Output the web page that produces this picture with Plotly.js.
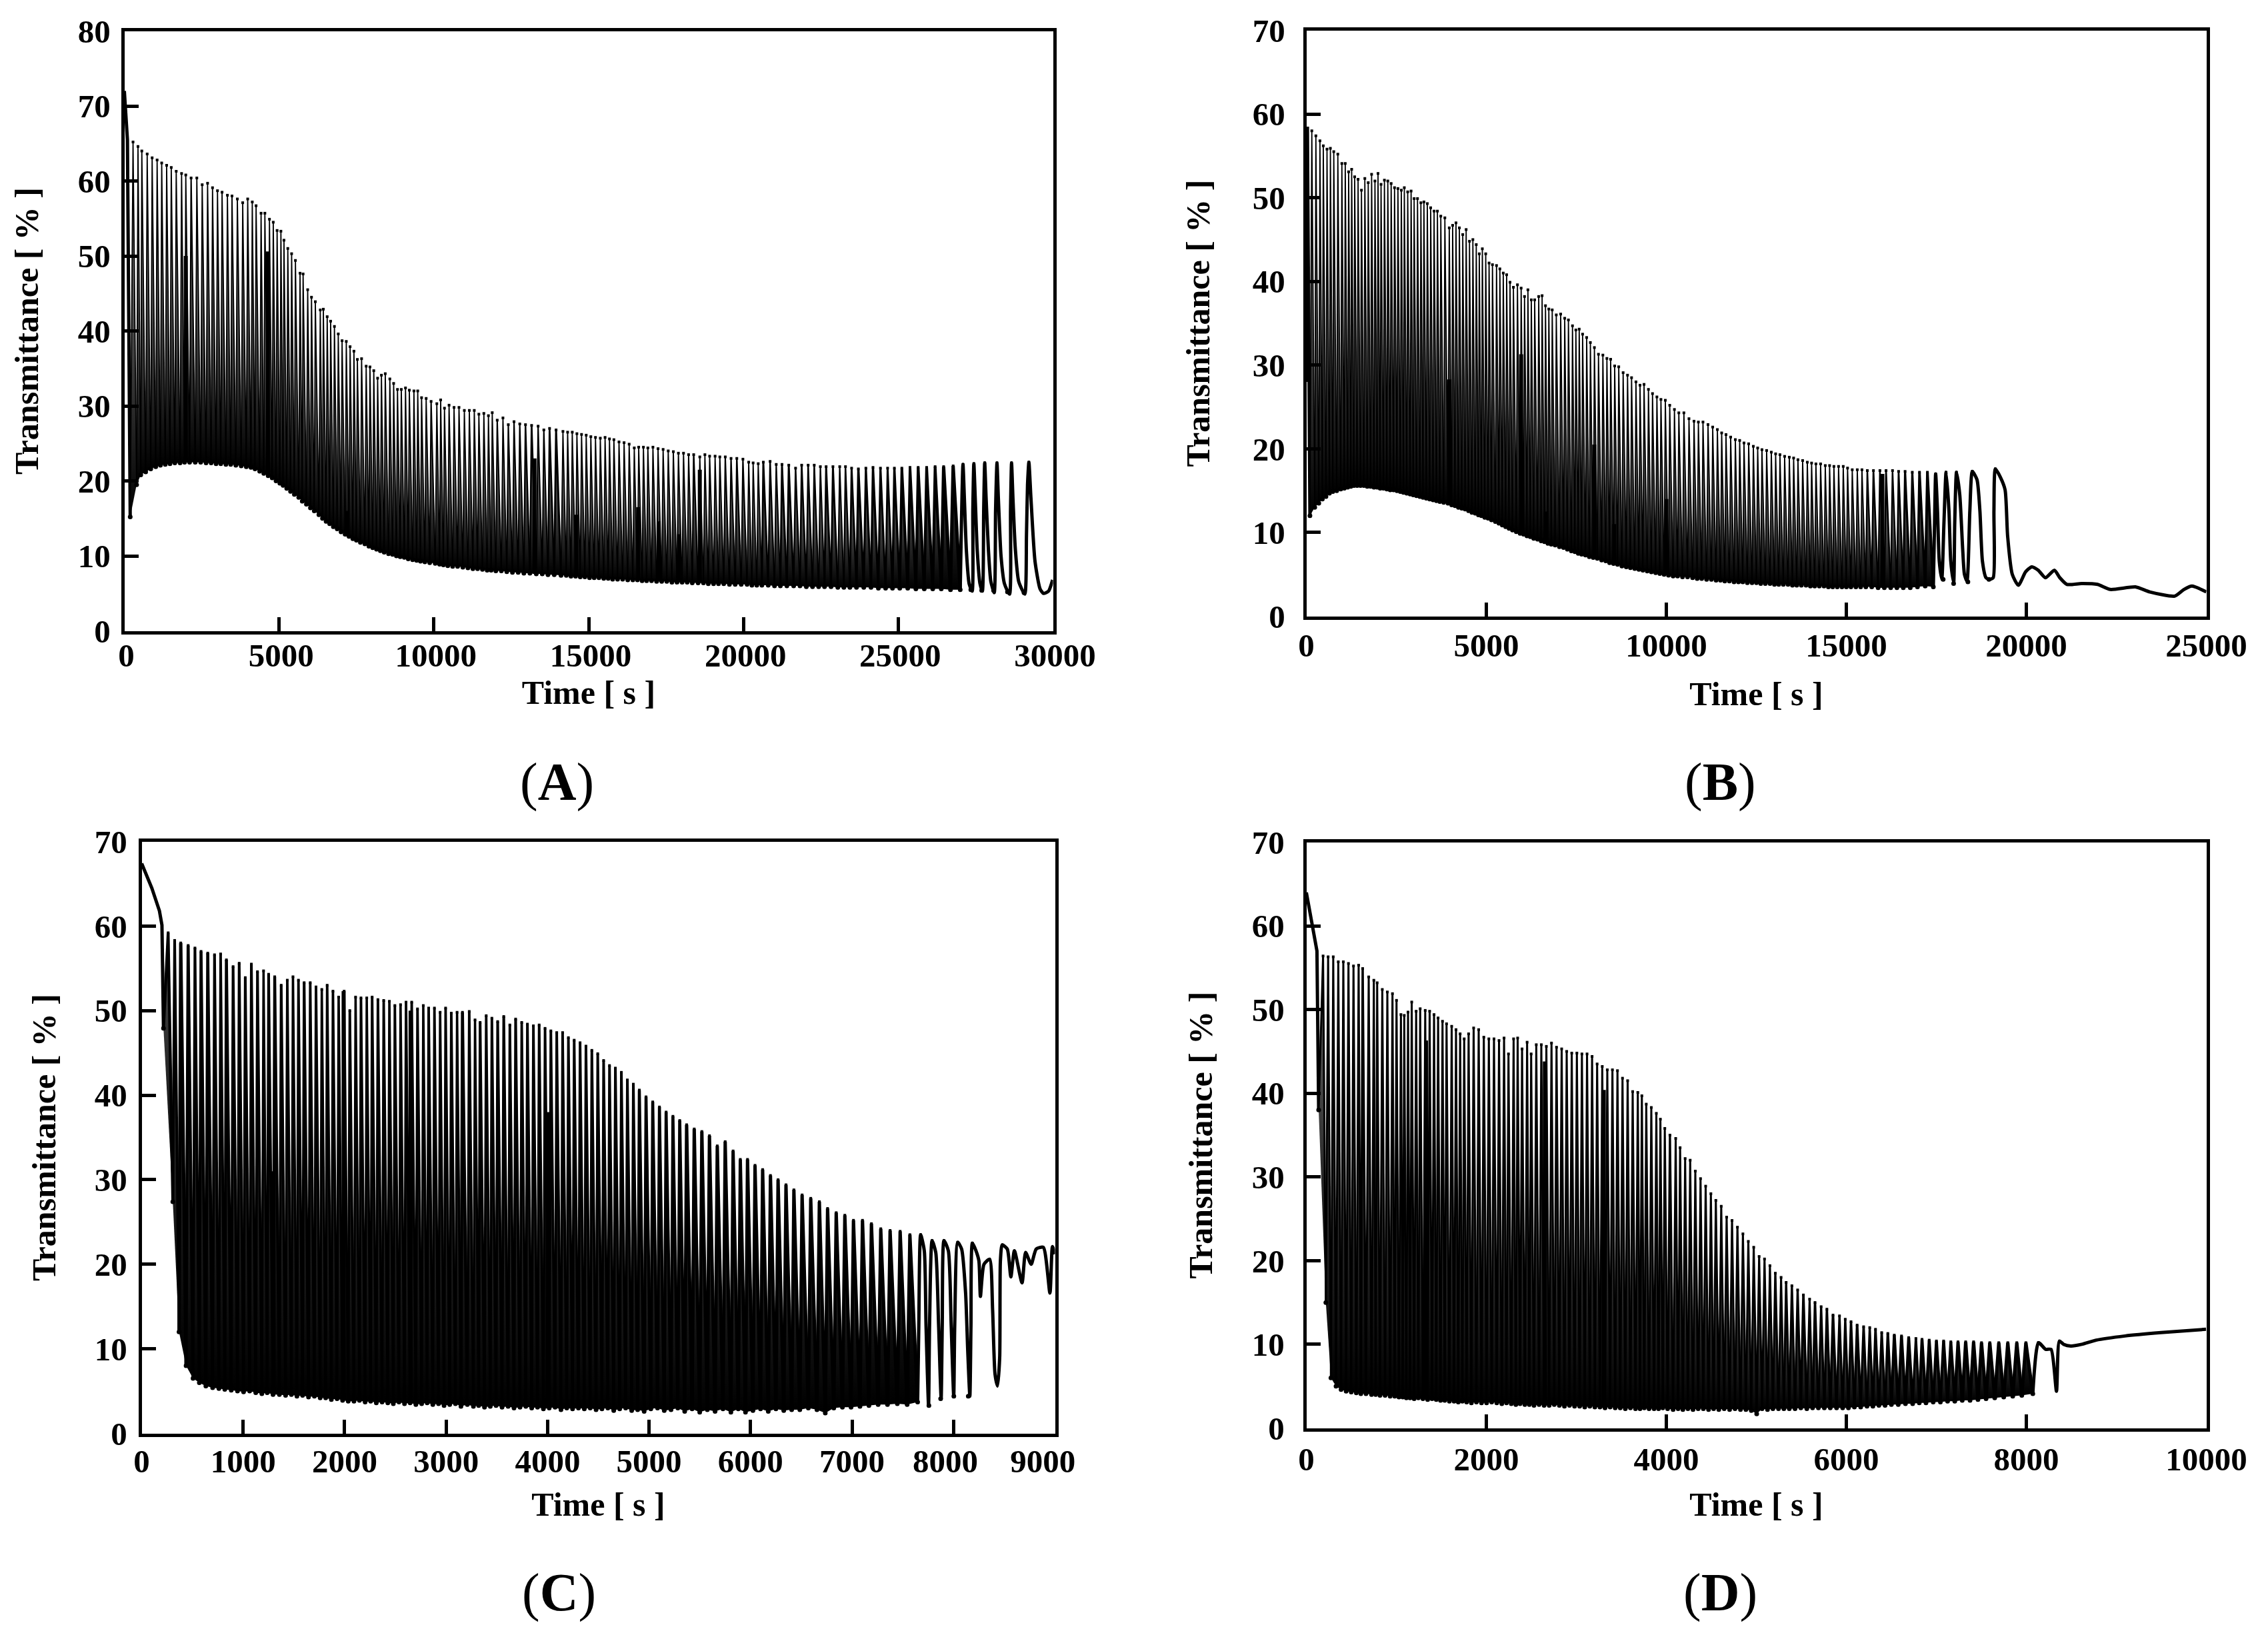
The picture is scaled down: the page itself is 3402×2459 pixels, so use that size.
<!DOCTYPE html>
<html><head><meta charset="utf-8">
<script src="https://cdn.plot.ly/plotly-3.0.1.min.js"></script>
<style>html,body{margin:0;padding:0;background:#fff}</style>
</head><body><div id="chart" style="width:3402px;height:2459px"></div>
<script>
const startTimesA=[0,100,190], startValsA=[72,65.5,15.2];
const timesA=[281,441,565,738,898,1059,1207,1367,1516,1676,
1849,1985,2157,2342,2515,2689,2849,3009,3157,3330,
3478,3651,3824,3985,4133,4256,4417,4540,4688,4811,
4935,5058,5157,5281,5404,5527,5676,5775,5923,6046,
6170,6330,6429,6553,6664,6787,6911,7034,7170,7293,
7417,7528,7664,7812,7935,8058,8182,8305,8429,8577,
8700,8824,8947,9083,9207,9355,9478,9602,9750,9910,
10095,10219,10342,10490,10651,10811,10984,11145,11305,11453,
11614,11762,11885,12046,12231,12404,12589,12774,12959,13157,
13367,13552,13737,13947,14169,14320,14470,14620,14770,14920,
15070,15220,15376,15530,15672,15815,15980,16144,16308,16473,
16616,16769,16912,17076,17241,17405,17570,17735,17899,18064,
18228,18393,18590,18755,18908,19084,19237,19413,19599,19786,
19983,20170,20313,20477,20642,20861,21059,21245,21464,21684,
21881,22090,22287,22485,22671,22891,23110,23296,23494,23713,
23955,24185,24426,24657,24876,25117,25381,25644,25918,26192,
26467,26774,27092,27443,27794,28190,28661,29221];
const topsA=[65.2,64.6,64,63.6,63.1,62.8,62.4,62.1,61.8,61.3,
61,60.8,60.4,60.4,59.5,59.7,59.1,58.7,58.5,58.1,
58,57.6,57.1,57.6,57.2,56.7,55.7,55.7,54.9,54.5,
53.4,53.3,52.1,51,50.3,49.4,47.7,47.6,45.5,44.5,
43.9,42.8,42.9,41.9,41.3,40.6,39.6,38.7,38.6,37.9,
37.3,36.2,36.3,35.3,35.2,34.7,33.7,34.1,34.3,33.6,
33,32.2,32.2,32.4,32.1,32,32,31.1,31,30.6,
30.3,30.8,29.7,30.1,29.8,29.8,29.4,29.4,29.4,28.9,
29,28.7,29.1,28.1,28.4,27.5,27.9,27.6,27.5,27.4,
27.3,26.8,27,26.8,26.6,26.5,26.5,26.3,26.2,26.1,
25.9,25.8,25.7,25.8,25.6,25.5,25.2,25.1,24.9,24.4,
24.5,24.5,24.4,24.5,24.3,24.2,24,23.9,23.7,23.7,
23.5,23.5,23.2,23.5,23.3,23.3,23.2,23.2,23,23,
22.9,22.5,22.4,22.3,22.5,22.6,22.2,22.2,22.1,21.7,
22.1,22.1,22.1,21.9,21.9,21.9,21.9,21.9,21.7,21.6,
21.7,21.8,21.7,21.7,21.7,21.7,21.8,21.8,21.8,21.9,
21.9,22,22.2,22.3,22.4,22.4,22.4,22.5];
const lowsA=[19.5,20.8,21.2,21.6,21.9,22.1,22.2,22.3,22.4,22.4,
22.5,22.5,22.5,22.5,22.4,22.4,22.3,22.3,22.2,22.2,
22.1,22,21.9,21.8,21.6,21.3,21,20.7,20.4,20,
19.7,19.4,19,18.6,18.2,17.8,17.3,16.9,16.4,16,
15.5,15,14.6,14.3,13.9,13.6,13.2,12.9,12.6,12.3,
12.1,11.8,11.6,11.3,11.1,10.9,10.7,10.5,10.3,10.2,
10,9.9,9.8,9.6,9.5,9.4,9.3,9.2,9.1,9,
8.9,8.8,8.7,8.6,8.6,8.5,8.4,8.3,8.3,8.2,
8.1,8.1,8,8,7.9,7.8,7.8,7.7,7.7,7.6,
7.6,7.5,7.5,7.4,7.4,7.3,7.3,7.2,7.2,7.1,
7.1,7.1,7,7,6.9,6.9,6.9,6.8,6.8,6.8,
6.7,6.7,6.7,6.6,6.6,6.6,6.5,6.5,6.5,6.5,
6.4,6.4,6.4,6.3,6.3,6.3,6.3,6.2,6.2,6.2,
6.2,6.1,6.1,6.1,6.1,6,6,6,6,6,
5.9,5.9,5.9,5.9,5.9,5.8,5.8,5.8,5.8,5.8,
5.8,5.7,5.7,5.7,5.7,5.7,5.6,5.6,5.6,5.6,
5.5,5.5,5.5,5.4,5.4,5.2,5.1];
const endTimesA=[27092,27136,27202,27290,27388,27410,27443,27487,27553,27641,27718,27761,27794,27838,27915,27992,28101,28145,28190,28234,28321,28431,28596,28628,28661,28705,28782,28891,29089,29143,29177,29221,29286,29418,29582,29692,29856,29988];
const endValsA=[22.2,17.8,10.7,6.3,5.3,16.1,22.3,17.8,10.7,6.3,5.3,16.1,22.4,17.8,10.7,6.6,5.1,16.1,22.4,17.8,10,6.3,4.9,16.1,22.4,17.8,11,6.6,4.9,12.7,19.5,22.5,17.8,9.3,5.6,5,5.3,6.8];
const barTimesA=[1985,4640,7200,13250,14600,16600,17263,17921,18590], barTopsA=[50,50.6,16,23,15.5,16.5,14.6,12.9,21.5];

const startTimesB=[0,30,100], startValsB=[28,58.5,12];
const timesB=[152,265,378,471,574,668,762,875,987,1081,
1175,1259,1343,1437,1531,1625,1719,1813,1906,1991,
2075,2169,2263,2356,2450,2544,2638,2722,2816,2910,
2994,3088,3182,3266,3360,3454,3548,3641,3735,3848,
3970,4064,4157,4251,4345,4439,4532,4626,4720,4804,
4889,4983,5076,5170,5283,5376,5470,5564,5658,5752,
5864,5967,6061,6155,6249,6343,6455,6549,6643,6736,
6830,6943,7065,7177,7280,7393,7487,7580,7674,7787,
7890,8002,8115,8237,8349,8453,8565,8678,8800,8922,
9034,9156,9269,9381,9503,9616,9738,9850,9972,10094,
10225,10347,10488,10629,10769,10890,11018,11158,11288,11418,
11537,11657,11787,11917,12037,12157,12287,12417,12537,12656,
12786,12916,13036,13156,13286,13416,13536,13656,13786,13916,
14035,14155,14285,14415,14535,14655,14784,14914,15034,15164,
15304,15434,15583,15753,15933,16103,16283,16452,16632,16832,
17032,17252,17481,17771,18061,18500,19140];
const topsB=[58,57.4,56.8,56.2,55.8,55.9,55.5,55.2,54.1,54.1,
53.1,53.4,52.5,52.2,50.9,52.3,51.8,52.8,52,52.9,
51.6,52.1,52,51.7,51.2,51.1,50.9,51.2,50.7,50.8,
49.9,49.9,49.4,49.5,49.3,48.8,48.4,48.4,47.8,47.6,
46.4,46.7,47,46.4,45.6,46.2,44.8,45,44.4,43.3,
43.9,43.3,42.2,42,41.9,41.5,41,40.8,39.9,39.3,
39.6,39.2,38.2,39,37.8,37.8,38.2,38.3,37.1,36.7,
36.6,36,36.1,35.6,35.4,34.7,34.2,34.3,33.7,33.3,
32.7,32.1,31.3,31.2,30.8,30.7,29.9,29.8,29.1,28.8,
28.5,28,27.6,27.7,27.1,26.6,26.2,25.9,25.8,25.2,
24.7,24.3,24.3,23.6,23.3,23.2,23.2,22.9,22.6,22.3,
21.9,21.7,21.4,21.1,21,20.7,20.6,20.3,20.1,19.9,
19.8,19.6,19.4,19.3,19.1,19,18.9,18.7,18.6,18.4,
18.3,18.2,18.2,18,18,17.9,17.9,17.9,17.7,17.5,
17.5,17.5,17.4,17.4,17.4,17.4,17.4,17.3,17.3,17.2,
17.2,17.2,17,17.2,17.2,17.3,17.6];
const lowsB=[13,13.5,14,14.3,14.7,14.9,15,15.2,15.3,15.4,
15.5,15.6,15.6,15.6,15.6,15.5,15.5,15.4,15.4,15.3,
15.3,15.2,15.1,15.1,15,14.9,14.8,14.7,14.6,14.5,
14.4,14.3,14.2,14.1,14,13.9,13.8,13.7,13.6,13.5,
13.3,13.2,13,12.9,12.8,12.6,12.4,12.3,12.1,12,
11.8,11.7,11.5,11.3,11.1,10.9,10.7,10.5,10.3,10.1,
9.9,9.8,9.6,9.5,9.3,9.2,9,8.9,8.7,8.6,
8.5,8.3,8.2,8,7.8,7.7,7.5,7.4,7.3,7.1,
7,6.9,6.7,6.6,6.4,6.3,6.2,6,5.9,5.8,
5.7,5.6,5.5,5.4,5.3,5.2,5.1,5,4.9,4.8,
4.8,4.7,4.7,4.6,4.5,4.5,4.4,4.4,4.3,4.3,
4.2,4.2,4.1,4.1,4.1,4,4,4,3.9,3.9,
3.9,3.8,3.8,3.8,3.8,3.7,3.7,3.7,3.7,3.6,
3.6,3.6,3.6,3.5,3.5,3.5,3.5,3.5,3.5,3.5,
3.5,3.5,3.5,3.4,3.4,3.4,3.4,3.4,3.4,3.5,
3.6,3.5,4.4,3.9,4.1,4.4];
const endTimesB=[17451,17481,17532,17581,17651,17711,17771,17851,17901,17981,18011,18061,18151,18231,18281,18351,18431,18500,18630,18710,18780,18880,18980,19080,19100,19140,19280,19410,19480,19610,19780,19980,20150,20330,20530,20780,20930,21130,21530,21980,22330,23030,23430,24120,24380,24600,25000];
const endValsB=[11.1,17,12.6,6.6,4.4,11.1,17.2,12.6,6.6,4,11.1,17.2,14.5,8.1,5,4.2,12.6,17.3,16.3,12.6,6.6,4.6,4.4,4.6,12.6,17.6,16.6,15.1,9.6,5,3.7,5.3,5.9,5.5,4.6,5.5,4.6,3.8,3.9,3.8,3.2,3.5,2.9,2.4,3.2,3.6,2.9];
const barTimesB=[3971,5967,6650,8000,8550,10000,16000], barTopsB=[28.3,31.3,12.5,20.5,11,14,17];

const startTimesC=[0,100,175,200,215], startValsC=[67.4,64.5,61.8,60.1,47.9];
const timesC=[261,325,385,458,525,585,651,718,778,835,
901,961,1021,1081,1141,1201,1251,1311,1375,1435,
1491,1545,1601,1661,1718,1775,1828,1885,1941,1995,
2051,2108,2161,2218,2271,2328,2385,2441,2495,2551,
2605,2661,2718,2775,2828,2885,2941,2995,3051,3108,
3161,3228,3285,3335,3395,3451,3508,3568,3628,3685,
3745,3801,3860,3917,3975,4032,4090,4148,4205,4262,
4320,4378,4436,4494,4552,4610,4668,4727,4786,4845,
4904,4970,5036,5102,5168,5235,5302,5370,5445,5520,
5595,5672,5750,5828,5899,5970,6044,6119,6196,6271,
6349,6427,6508,6593,6678,6759,6844,6929,7014,7103,
7191,7283,7375,7474,7570,7676,7789,7906,8041,8186];
const topsC=[59.2,58.3,58,57.7,57.4,57,56.8,56.6,56.7,56,
55.2,55.6,53.9,55.5,54.6,54.7,54.3,54,53,53.6,
54,53.6,53.3,53.3,52.8,52.5,53,52.3,51.6,52.3,
50,51.6,51.5,51.5,51.6,51.3,51.2,51.1,50.6,50.7,
51,51,50.2,50.6,50.3,50.3,49.8,50.3,49.7,49.8,
49.8,49.9,48.9,48.6,49.4,49.1,48.7,49.3,48.3,49,
48.6,48.4,48.2,48.3,47.9,47.6,47.4,47.4,46.8,46.5,
46.2,45.8,45.3,44.9,44.1,43.5,43.2,42.7,41.8,41.3,
40.6,39.8,39.2,38.6,38,37.5,37,36.5,36,35.7,
35.2,34,34.5,33.4,32.4,32.4,31.7,31.2,30.5,30,
29.4,28.8,28.2,27.8,27.4,26.6,26.1,25.8,25.2,25.2,
24.8,24.2,24,23.9,23.5,23.5,22.8,22.8,22.6,22.5];
const lowsC=[27.4,12,8,6.5,6,5.6,5.4,5.3,5.2,5.1,
5,4.9,5,4.8,4.7,4.8,4.6,4.6,4.5,4.6,
4.4,4.5,4.3,4.4,4.2,4.2,4,4.1,3.9,3.8,
3.8,3.9,3.7,3.8,3.6,3.7,3.6,3.5,3.7,3.5,
3.6,3.4,3.5,3.6,3.4,3.5,3.3,3.4,3.5,3.2,
3.4,3.2,3.3,3.1,3.2,3.3,3.1,3.2,3,3.1,
3.2,3,3.1,2.9,3,3.1,2.8,3,2.9,3,
2.9,3,2.8,2.9,3,2.7,2.9,3,2.7,2.8,
2.6,2.9,3,2.7,2.8,3,2.6,2.9,2.5,2.8,
2.6,2.9,2.5,2.9,2.5,2.7,2.9,2.6,2.9,2.7,
2.8,2.8,3,2.8,2.4,3,3.1,3.1,3.2,3.3,
3.4,3.4,3.5,3.4,3.7,3.3,4.1,4.4,4.4];
const endTimesC=[7658,7676,7712,7729,7754,7764,7789,7825,7853,7878,7889,7906,7949,7977,8002,8012,8041,8080,8119,8140,8161,8172,8186,8221,8250,8265,8300,8356,8385,8409,8434,8455,8462,8480,8530,8565,8600,8675,8710,8765,8815,8885,8950,8975,9000];
const endValsC=[12.8,23.5,21.6,12.8,3.3,12.8,22.8,21.4,12.8,4.1,12.8,22.8,21.6,12.8,4.4,12.8,22.6,21.8,16.6,9.8,4.4,12.8,22.5,21.6,20.4,16.2,20,20.6,14.7,7,5.6,9,20.4,22.3,21.8,18.5,21.6,17.8,21.4,20,21.8,22,16.6,22.1,21.2];
const barTimesC=[1300,1990,2650,4000], barTopsC=[31,52.3,50,38];

const startTimesD=[0,54,118,137], startValsD=[64,60.6,57,38];
const timesD=[186,242,299,355,411,468,524,581,626,693,
750,787,844,900,957,1002,1051,1088,1130,1171,
1220,1265,1321,1370,1419,1464,1513,1558,1615,1663,
1709,1754,1803,1859,1915,1972,2028,2085,2141,2197,
2246,2303,2348,2397,2453,2498,2555,2611,2667,2724,
2780,2837,2893,2949,3006,3062,3119,3175,3231,3288,
3344,3401,3457,3513,3570,3626,3683,3728,3777,3833,
3889,3934,3983,4040,4104,4153,4209,4265,4322,4380,
4437,4495,4550,4610,4670,4730,4790,4851,4911,4971,
5031,5091,5151,5211,5275,5331,5395,5459,5523,5592,
5652,5720,5784,5852,5924,5988,6052,6120,6192,6260,
6324,6393,6461,6533,6613,6693,6773,6841,6921,7001,
7081,7161,7241,7326,7414,7502,7594,7694,7794,7894,
7995,8135];
const topsD=[56.4,56.3,56.3,55.7,55.7,55.5,55.2,55.3,54.9,53.9,
53.5,53.2,52.4,52.1,51.9,51.1,49.4,49.3,49.7,50.9,
49.8,50.1,49.9,49.8,49.4,49,48.6,48.3,48,47.6,
47.1,46.5,47.1,47.8,47.6,46.7,46.5,46.5,46.3,46.6,
44.7,46.5,46.6,45.3,46.1,44.7,45.8,45.8,45.6,46,
45.5,45.3,45,44.8,44.8,44.7,44.7,44.4,43.5,43.2,
42.8,42.8,42.7,41.8,41.5,40.2,40.1,39.7,38.7,38.3,
37.6,36.9,35.8,35,34.6,33.5,32.2,32,30.7,29.8,
28.9,28,27.2,26.5,25.2,24.8,24,23.2,22.3,21.6,
20.5,20.2,19.4,18.5,18,17.4,17,16.5,15.9,15.4,
15,14.5,14.2,13.5,13.4,13,12.7,12.3,12.1,12,
11.8,11.4,11.3,11.1,11,10.8,10.7,10.6,10.5,10.4,
10.4,10.3,10.3,10.3,10.3,10.2,10.2,10.2,10.2,10.2,
10.2,10.2];
const lowsD=[15,6,5,4.6,4.4,4.3,4.2,4.1,4.1,4,
4,3.9,3.9,3.8,3.8,3.7,3.7,3.6,3.6,3.5,
3.6,3.5,3.4,3.5,3.4,3.3,3.3,3.2,3.2,3.1,
3.2,3.1,3,3.1,3,3,3.1,3,2.9,3,
2.9,2.8,2.9,2.8,2.8,2.7,2.8,2.7,2.7,2.8,
2.7,2.6,2.7,2.6,2.6,2.5,2.6,2.5,2.5,2.4,
2.5,2.4,2.4,2.3,2.4,2.3,2.3,2.4,2.3,2.3,
2.3,2.4,2.3,2.2,2.3,2.2,2.3,2.2,2.3,2.3,
2.2,2.3,2.2,2.3,2.2,2.3,2.2,2.2,2.1,1.7,
2.3,2.2,2.3,2.3,2.3,2.3,2.3,2.4,2.3,2.4,
2.4,2.4,2.4,2.4,2.4,2.4,2.5,2.5,2.6,2.6,
2.7,2.7,2.8,2.8,2.9,2.9,3,3,3.1,3.1,
3.2,3.2,3.3,3.3,3.4,3.5,3.6,3.7,3.8,3.9,
4.1];
const endTimesD=[8135,8215,8275,8335,8367,8415,8495,8615,8776,9096,9497,9997];
const endValsD=[10.2,9.4,9.4,4.4,10.4,10,9.8,10,10.5,11,11.4,11.8];
const barTimesD=[1330,2650,3305], barTopsD=[46.3,43.8,40.4];

const xTicksA=[0,5000,10000,15000,20000,25000,30000];
const xTicksB=[0,5000,10000,15000,20000,25000];
const xTicksC=[0,1000,2000,3000,4000,5000,6000,7000,8000,9000];
const xTicksD=[0,2000,4000,6000,8000,10000];
const yTicks80=[0,10,20,30,40,50,60,70,80];
const yTicks70=[0,10,20,30,40,50,60,70];
const panelNames=['A','B','C','D'];

const W=3402,H=2459,NB='\u00A0';
const FONT='"Liberation Serif","Times New Roman",serif';
const panels=[
 {n:'',box:[184,1582,44,949],xr:30000,yr:80,xt:xTicksA,yt:yTicks80,st:startTimesA,sv:startValsA,t:timesA,top:topsA,low:lowsA,et:endTimesA,ev:endValsA,bt:barTimesA,bv:barTopsA,frac:.72,tail:162,gray:0x95,lw:1.8,lab:[835,1174],xStd:-10,xTit:10,xShift:3,yStd:6,yTit:45,
   ttx:v=>String(v)},
 {n:'2',box:[1957,3312,43,927],xr:25000,yr:70,xt:xTicksB,yt:yTicks70,st:startTimesB,sv:startValsB,t:timesB,top:topsB,low:lowsB,et:endTimesB,ev:endValsB,bt:barTimesB,bv:barTopsB,frac:.72,tail:152,gray:0x95,lw:1.8,lab:[2580,1174],xStd:-3,xTit:29,xShift:0,yStd:17,yTit:50,
   ttx:v=>String(v)},
 {n:'3',box:[210,1585,1260,2153],xr:9000,yr:70,xt:xTicksC,yt:yTicks70,st:startTimesC,sv:startValsC,t:timesC,top:topsC,low:lowsC,et:endTimesC,ev:endValsC,bt:barTimesC,bv:barTopsC,frac:.72,tail:115,gray:0x50,lw:3.5,lab:[838,2389],xStd:-5,xTit:21,xShift:0,yStd:7,yTit:44,
   ttx:v=>v===8000?'8000'+NB+NB:v===9000?'9000'+NB+NB+NB:String(v)},
 {n:'4',box:[1957,3312,1261,2145],xr:10000,yr:70,xt:xTicksD,yt:yTicks70,st:startTimesD,sv:startValsD,t:timesD,top:topsD,low:lowsD,et:endTimesD,ev:endValsD,bt:barTimesD,bv:barTopsD,frac:.55,tail:131,gray:0x70,lw:3,lab:[2580,2389],xStd:0,xTit:24,xShift:0,yStd:18,yTit:45,
   ttx:v=>String(v)}
];
const traces=[]; const layout={width:W,height:H,margin:{l:0,r:0,t:0,b:0},paper_bgcolor:'#fff',plot_bgcolor:'#fff',showlegend:false,annotations:[],font:{family:FONT,color:'#000'}};
panels.forEach((p,k)=>{
  const xa='x'+p.n, ya='y'+p.n, base={xaxis:xa,yaxis:ya,hoverinfo:'skip',showlegend:false};
  const n=p.t.length, inset=2.5;
  const L=p.box[0]+inset,R=p.box[1]-inset,T=p.box[2]+inset,B=p.box[3]-inset;
  const pxPerS=(R-L)/p.xr;
  const lowT=[p.st[p.st.length-1]], lowV=[p.sv[p.sv.length-1]];
  for(let i=0;i<n-1;i++){lowT.push(p.t[i]+p.frac*(p.t[i+1]-p.t[i]));lowV.push(p.low[i]);}
  traces.push({...base,type:'scatter',mode:'lines',x:p.st,y:p.sv,line:{color:'#000',width:5}});
  for(let i=0;i<Math.min(n-1,p.tail);i++){
    const ppx=(p.t[i+1]-p.t[i])*pxPerS;
    const w=Math.max(p.lw,Math.min(5,p.lw+(ppx-8)*.5));
    const g=Math.round(p.gray*(1-Math.max(0,Math.min(1,(ppx-10)/6))*.7));
    traces.push({...base,type:'scatter',mode:'lines',x:[lowT[i],p.t[i],lowT[i+1]],y:[lowV[i],p.top[i],lowV[i+1]],
      fill:'toself',line:{color:'#000',width:w},
      fillgradient:{type:'vertical',start:Math.min(lowV[i],lowV[i+1]),stop:p.top[i],colorscale:[[0,'#000'],[1,'rgb('+g+','+g+','+g+')']]}});
  }
  traces.push({...base,type:'scatter',mode:'lines',x:[lowT[p.tail]].concat(p.et),y:[lowV[p.tail]].concat(p.ev),line:{color:'#000',width:5,shape:'spline',smoothing:.6}});
  traces.push({...base,type:'scatter',mode:'markers',x:lowT,y:lowV,marker:{color:'#000',size:7,symbol:'circle'}});
  traces.push({...base,type:'scatter',mode:'markers',x:p.t,y:p.top,marker:{color:'#000',size:4,symbol:'square'}});
  p.bt.forEach((t,j)=>{
    let m=0; lowT.forEach((v,q)=>{if(Math.abs(v-t)<Math.abs(lowT[m]-t))m=q;});
    traces.push({...base,type:'scatter',mode:'lines',x:[t,t],y:[lowV[m],p.bv[j]],line:{color:'#000',width:6}});
  });
  const sfx=p.n, common={tickmode:'array',ticks:'inside',ticklen:21,tickwidth:5,tickcolor:'#000',showline:true,mirror:true,linecolor:'#000',linewidth:5,showgrid:false,zeroline:false,
    tickfont:{family:FONT,size:49,color:'#000',weight:700}};
  layout['xaxis'+sfx]={...common,domain:[L/W,R/W],range:[0,p.xr],anchor:ya,tickvals:p.xt,ticktext:p.xt.map(p.ttx),ticklabelstandoff:p.xStd,ticklabelshift:p.xShift,
    title:{text:'Time [ s ]',standoff:p.xTit,font:{family:FONT,size:50,color:'#000',weight:700}}};
  layout['yaxis'+sfx]={...common,domain:[1-B/H,1-T/H],range:[0,p.yr],anchor:xa,tickvals:p.yt,ticktext:p.yt.map(String),ticklabelstandoff:p.yStd,
    title:{text:'Transmittance [ % ]',standoff:p.yTit,font:{family:FONT,size:50,color:'#000',weight:700}}};
  layout.annotations.push({xref:'paper',yref:'paper',x:p.lab[0]/W,y:1-p.lab[1]/H,xanchor:'center',yanchor:'middle',showarrow:false,
    text:'(<b>'+panelNames[k]+'</b>)',font:{family:FONT,size:80,color:'#000'}});
});
Plotly.newPlot('chart',traces,layout,{displayModeBar:false,staticPlot:true});
</script></body></html>
